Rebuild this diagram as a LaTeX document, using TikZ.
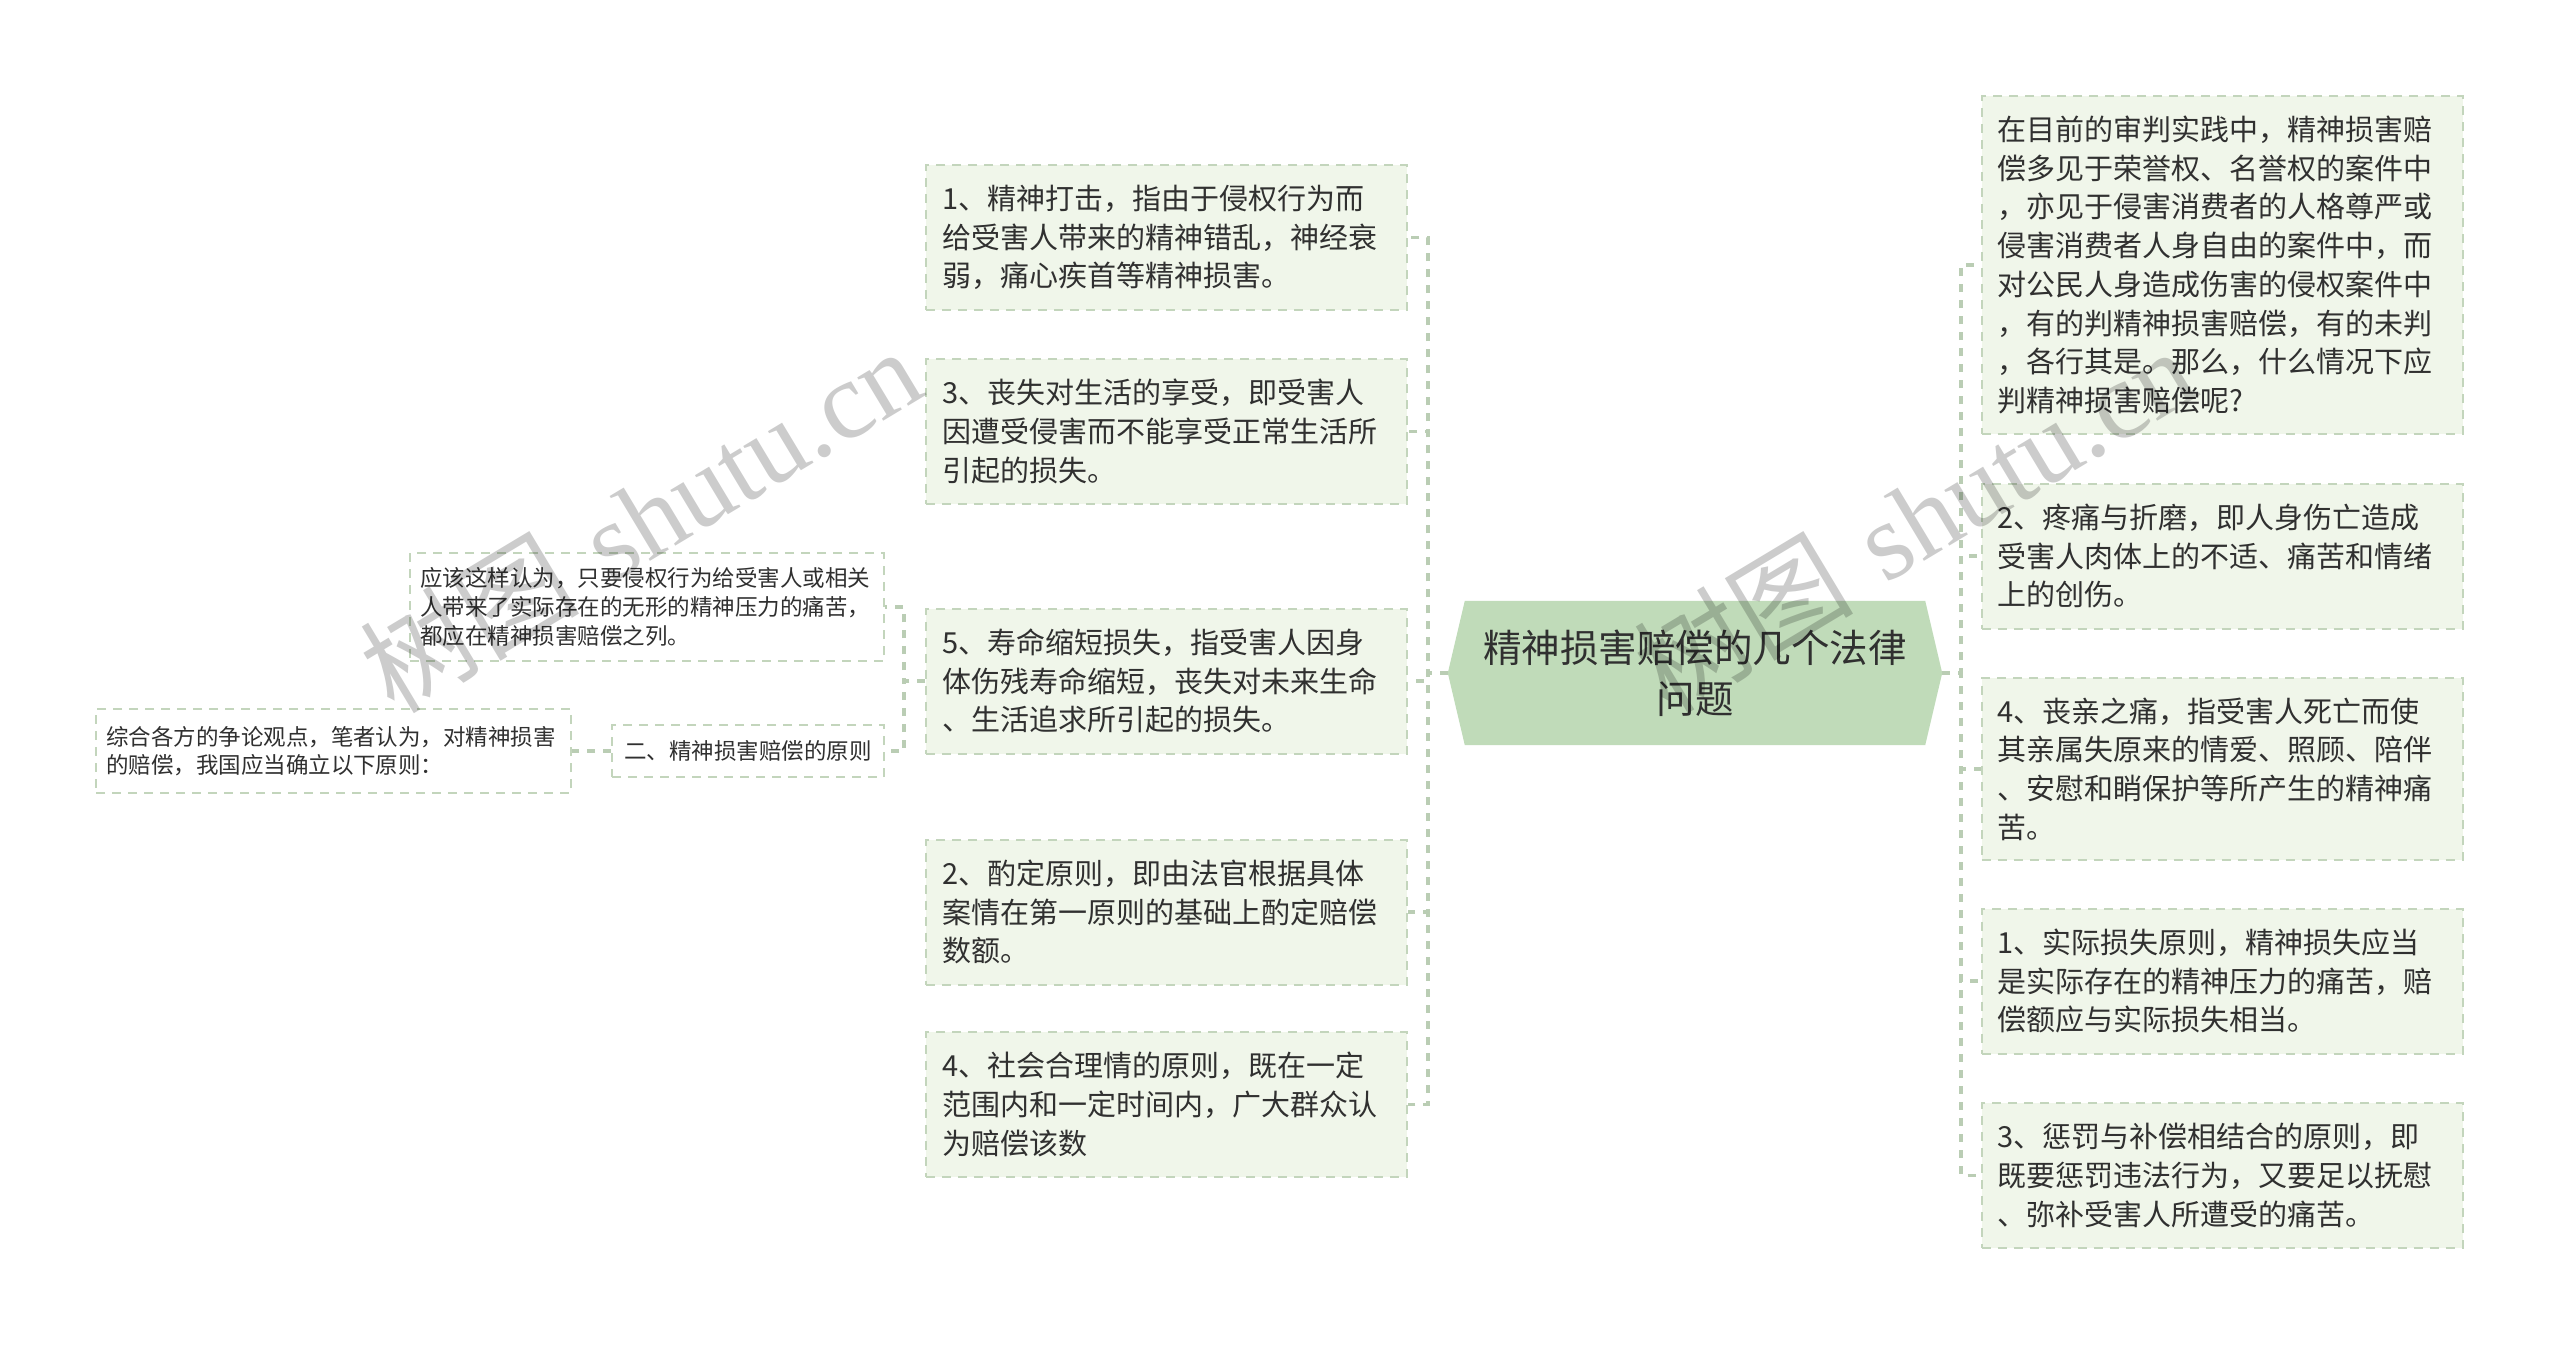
\documentclass[tikz,border=0pt]{standalone}
\usepackage{fontspec}
\newfontfamily\cjk{Noto Sans CJK SC}
\newfontfamily\wmserif{Liberation Serif}
\usetikzlibrary{backgrounds}
\definecolor{boxfill}{HTML}{F0F6EA}
\definecolor{boxline}{HTML}{C3D5BC}
\definecolor{connc}{HTML}{BACDB4}
\definecolor{cfill}{HTML}{C0DBB9}
\definecolor{txt}{HTML}{303030}
\begin{document}
\begin{tikzpicture}[x=1pt,y=-1pt,
 bigbox/.style={draw=boxline, fill=boxfill, line width=2pt, dash pattern=on 9pt off 7pt,
   text width=449pt, inner xsep=16pt, inner ysep=6pt, align=left, text=txt,
   font=\cjk\fontsize{29}{38.7}\selectfont, minimum height=145pt},
 smallbox/.style={draw=boxline, fill=white, line width=2pt, dash pattern=on 9pt off 7pt,
   inner ysep=6pt, align=left, text=txt, font=\cjk\fontsize{22.5}{28.6}\selectfont},
 conn/.style={draw=connc, line width=3.5pt, dash pattern=on 8pt off 8pt},
 wm/.style={text=black, opacity=0.2, rotate=31, inner sep=0pt, font=\fontsize{110}{110}\selectfont}
]
\useasboundingbox (0,0) rectangle (2560,1346);

% central node
\node[minimum width=460pt, minimum height=144pt, text width=440pt, align=center, inner sep=0pt,
      text=txt, font=\cjk\fontsize{38.5}{50.6}\selectfont] (c) at (1695,673)
  {精神损害赔偿的几个法律\\问题};
\coordinate (cl) at ([xshift=-17pt]c.west);
\coordinate (cr) at ([xshift=17pt]c.east);
\begin{scope}[on background layer]
\fill[white] (0,0) rectangle (2560,1346);
\fill[cfill] (cl) -- (c.north west) -- (c.north east) -- (cr) -- (c.south east) -- (c.south west) -- cycle;
\end{scope}

% left children
\node[bigbox] (L1) at (1166.5,237.5) {1、精神打击，指由于侵权行为而\\给受害人带来的精神错乱，神经衰\\弱，痛心疾首等精神损害。};
\node[bigbox] (L3) at (1166.5,431.5) {3、丧失对生活的享受，即受害人\\因遭受侵害而不能享受正常生活所\\引起的损失。};
\node[bigbox] (L5) at (1166.5,681) {5、寿命缩短损失，指受害人因身\\体伤残寿命缩短，丧失对未来生命\\、生活追求所引起的损失。};
\node[bigbox] (L2) at (1166.5,912) {2、酌定原则，即由法官根据具体\\案情在第一原则的基础上酌定赔偿\\数额。};
\node[bigbox] (L4) at (1166.5,1104.5) {4、社会合理情的原则，既在一定\\范围内和一定时间内，广大群众认\\为赔偿该数};

% right children
\node[bigbox, minimum height=338pt] (R1) at (2222,265) {在目前的审判实践中，精神损害赔\\偿多见于荣誉权、名誉权的案件中\\，亦见于侵害消费者的人格尊严或\\侵害消费者人身自由的案件中，而\\对公民人身造成伤害的侵权案件中\\，有的判精神损害赔偿，有的未判\\，各行其是。那么，什么情况下应\\判精神损害赔偿呢?};
\node[bigbox] (R2) at (2222,556) {2、疼痛与折磨，即人身伤亡造成\\受害人肉体上的不适、痛苦和情绪\\上的创伤。};
\node[bigbox, minimum height=182pt] (R3) at (2222,769) {4、丧亲之痛，指受害人死亡而使\\其亲属失原来的情爱、照顾、陪伴\\、安慰和睄保护等所产生的精神痛\\苦。};
\node[bigbox] (R4) at (2222,981) {1、实际损失原则，精神损失应当\\是实际存在的精神压力的痛苦，赔\\偿额应与实际损失相当。};
\node[bigbox] (R5) at (2222,1175.5) {3、惩罚与补偿相结合的原则，即\\既要惩罚违法行为，又要足以抚慰\\、弥补受害人所遭受的痛苦。};

% second level on the left
\node[smallbox, text width=454pt, inner xsep=10pt, minimum height=108pt] (A) at (647,607) {应该这样认为，只要侵权行为给受害人或相关\\人带来了实际存在的无形的精神压力的痛苦，\\都应在精神损害赔偿之列。};
\node[smallbox, text width=248pt, inner xsep=12pt, minimum height=52pt] (B) at (748,751) {二、精神损害赔偿的原则};
\node[smallbox, text width=455pt, inner xsep=10pt, minimum height=84pt] (D) at (333.5,751) {综合各方的争论观点，笔者认为，对精神损害\\的赔偿，我国应当确立以下原则：};

% connectors
\foreach \n in {L1,L3,L5,L2,L4}{
  \draw[conn] (cl) -- ++(-20,0) |- (\n.east);
}
\foreach \n in {R1,R2,R3,R4,R5}{
  \draw[conn] (cr) -- ++(19,0) |- (\n.west);
}
\foreach \n in {A,B}{
  \draw[conn] (L5.west) -- ++(-21,0) |- (\n.east);
}
\draw[conn] (B.west) -- (D.east);

% watermarks
\node[wm] (wm1) at (640,519) {{\cjk 树图} {\wmserif shutu.cn}};
\node[wm] (wm2) at (1914,519) {{\cjk 树图} {\wmserif shutu.cn}};
\end{tikzpicture}
\end{document}
